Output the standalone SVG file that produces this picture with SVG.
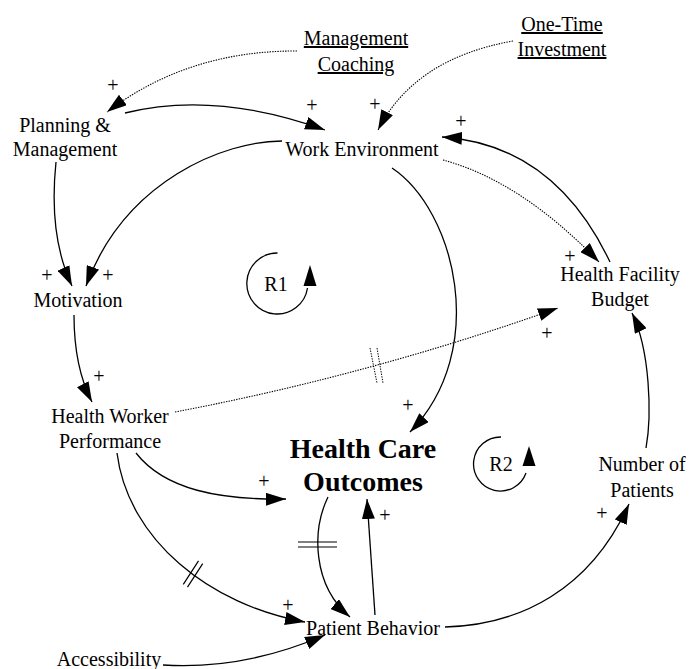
<svg xmlns="http://www.w3.org/2000/svg" width="690" height="669" viewBox="0 0 690 669" font-family="'Liberation Serif', Tinos, 'Times New Roman', Times, 'DejaVu Serif', serif">
<defs>
<style>
text{font-family:'Liberation Serif',Tinos,'Times New Roman',Times,'DejaVu Serif',serif;font-size:20px;fill:#000;text-anchor:middle}
.u{text-decoration:underline}
.b{font-weight:bold;font-size:28px}
.c{fill:none;stroke:#000;stroke-width:1.3;marker-end:url(#ah)}
.d{fill:none;stroke:#000;stroke-width:1.1;stroke-dasharray:1.4 1.2;marker-end:url(#ah)}
.m{fill:none;stroke:#000;stroke-width:1.2}
.md{fill:none;stroke:#000;stroke-width:1;stroke-dasharray:1.4 1.2}
.loop{fill:none;stroke:#000;stroke-width:1.3}
</style>
<marker id="ah" viewBox="0 0 20 13" refX="20" refY="6.5" markerWidth="20" markerHeight="13" markerUnits="userSpaceOnUse" orient="auto"><path d="M0,0 L20,6.5 L0,13 Z" fill="#000"/></marker>
</defs>
<rect width="690" height="669" fill="#fff"/>
<g id="connectors">
<path class="d" d="M297,51 Q188,50.5 107,112"/>
<path class="c" d="M125,113 Q215,90.5 325,130"/>
<path class="d" d="M513,41 Q414.5,58.5 378,130"/>
<path class="c" d="M610,262 Q554,144.5 442,137"/>
<path class="d" d="M443,160 Q521,181 599,262"/>
<path class="c" d="M282,141 C225,141 125,180 86,286"/>
<path class="c" d="M56,162 C51,210 55,250 72,286"/>
<path class="c" d="M74,315 C74,345 78,375 92,402"/>
<path class="d" d="M175,412 Q370,375 558,308"/>
<path class="md" d="M370,348 L377,383 M377,348 L383,383"/>
<path class="c" d="M392,168 C455,210 490,350 410,432"/>
<path class="c" d="M136,453 C165,490 220,500 286,499"/>
<path class="c" d="M117,453 C128,540 210,605 305,622"/>
<path class="m" d="M183.3,584.3 L198.5,560.9 M187.5,587.1 L202.7,563.7"/>
<path class="c" d="M328,497 C312,530 312,585 350,617"/>
<path class="m" d="M298,542 L337,542 M298,547 L337,547"/>
<path class="c" d="M375,615 L367,499"/>
<path class="c" d="M445,627 C520,625 590,590 629,504"/>
<path class="c" d="M646,448 C652,415 650,350 632,313"/>
<path class="c" d="M163,665 Q244,670 325,635"/>
</g>
<g id="polarities">
<text x="113" y="92">+</text>
<text x="312" y="112">+</text>
<text x="375" y="111">+</text>
<text x="461" y="128">+</text>
<text x="570" y="263">+</text>
<text x="47" y="282">+</text>
<text x="108" y="282">+</text>
<text x="99" y="383">+</text>
<text x="547" y="340">+</text>
<text x="408" y="412">+</text>
<text x="264" y="488">+</text>
<text x="288" y="612">+</text>
<text x="385" y="522">+</text>
<text x="602" y="520">+</text>
</g>
<g id="management-coaching"><text class="u" x="356" y="45">Management</text><text class="u" x="356" y="71">Coaching</text></g>
<g id="one-time-investment"><text class="u" x="562" y="31">One-Time</text><text class="u" x="562" y="56">Investment</text></g>
<g id="planning-management"><text x="65" y="132">Planning &amp;</text><text x="65" y="156">Management</text></g>
<g id="work-environment"><text x="362" y="156">Work Environment</text></g>
<g id="motivation"><text x="78" y="307">Motivation</text></g>
<g id="health-worker-performance"><text x="110" y="423">Health Worker</text><text x="110" y="448">Performance</text></g>
<g id="health-facility-budget"><text x="620" y="281">Health Facility</text><text x="620" y="306">Budget</text></g>
<g id="health-care-outcomes"><text class="b" x="363" y="458">Health Care</text><text class="b" x="363" y="491">Outcomes</text></g>
<g id="number-of-patients"><text x="642" y="471">Number of</text><text x="642" y="497">Patients</text></g>
<g id="patient-behavior"><text x="373" y="635">Patient Behavior</text></g>
<g id="accessibility"><text x="109" y="666">Accessibility</text></g>
<g id="loop-r1">
<path class="loop" d="M277.5,253 A30.5,30.5 0 1 0 307.5,288"/>
<polygon points="310,265 303.5,286 316.5,286" fill="#000"/>
<text x="276" y="291">R1</text>
</g>
<g id="loop-r2">
<path class="loop" d="M501,437 A27,27 0 1 0 526,473"/>
<polygon points="529,446 522.5,466 535.5,466" fill="#000"/>
<text x="501" y="471">R2</text>
</g>
</svg>
